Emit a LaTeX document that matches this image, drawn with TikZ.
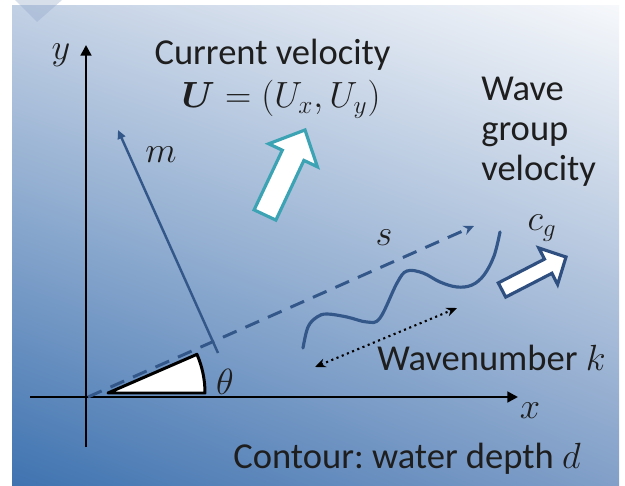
\documentclass[tikz,border=0pt]{standalone}
\usepackage{fontspec}
\usepackage{amsmath}
\setmainfont{Carlito}
\frenchspacing
\usetikzlibrary{arrows.meta,shadings}
\definecolor{bgUL}{HTML}{C2D0E4}
\definecolor{bgUR}{HTML}{F6F8FB}
\definecolor{bgLL}{HTML}{3F73B0}
\definecolor{bgLR}{HTML}{819FC8}
\definecolor{lineblue}{HTML}{34578A}
\definecolor{arrowblue}{HTML}{2E4F80}
\definecolor{tealc}{HTML}{3BA3B3}
\definecolor{tri}{HTML}{8FA5C8}
\definecolor{txt}{HTML}{1E1E1E}
\tikzset{
  axisline/.style={line width=1.7pt, black, -{Triangle[length=6pt,width=6pt]}},
  mline/.style={line width=1.4pt, lineblue, -{Triangle[length=5pt,width=4.5pt]}},
  sline/.style={line width=1.7pt, lineblue, dash pattern=on 8.5pt off 5.5pt, -{Stealth[length=6pt,width=5.5pt]}},
  waveline/.style={line width=1.8pt, lineblue, line cap=round},
  kline/.style={line width=1.2pt, black, dotted, {Stealth[length=6pt,width=5pt]}-{Stealth[length=6pt,width=5pt]}},
  bigarrow/.style={line width=1.8pt, fill=white, line join=miter},
  lbl/.style={text=txt, inner sep=0pt},
}
\begin{document}
\begin{tikzpicture}[x=0.02cm,y=0.02cm,font=\fontsize{20.8}{25}\selectfont]
\useasboundingbox (0,0) rectangle (625,-486);
% background panel
\fill[white] (0,0) rectangle (625,-486);
\shade[upper left=bgUL, upper right=bgUR, lower left=bgLL, lower right=bgLR] (12,-6) rectangle (619,-486);
\fill[tri, opacity=0.35] (15,0) -- (62,0) -- (37,-22) -- cycle;

% named points
\coordinate (O) at (86,-397);
\coordinate (xL) at (30,-397);
\coordinate (xR) at (518,-397);
\coordinate (yB) at (86,-447);
\coordinate (yT) at (86,-45);
\coordinate (mA) at (218,-353);
\coordinate (mB) at (118,-130);
\coordinate (sA) at (88,-397);
\coordinate (sB) at (474,-226);
\coordinate (kA) at (315,-367);
\coordinate (kB) at (457,-308);
\coordinate (W) at (108,-393);

% wedge
\draw[line width=1.7pt, fill=white, line join=round] (W) -- ++(97,0) arc[start angle=0, end angle=23.5, radius=1.94cm] -- cycle;

% axes
\draw[axisline] (xL) -- (xR);
\draw[axisline] (yB) -- (yT);

% m and s
\draw[mline] (mA) -- (mB);
\draw[sline] (sA) -- (sB);

% wave
\draw[waveline] plot[smooth, tension=0.6] coordinates {(303,-348) (308,-327) (317,-317) (327,-314) (347,-317) (367,-322) (380,-318) (397,-283) (407,-271) (423,-273) (440,-282) (457,-287) (472,-285) (484,-275) (494,-256) (500,-232)};

% wavenumber arrow
\draw[kline] (kA) -- (kB);

% current velocity arrow
\draw[bigarrow, draw=tealc] (254.1,-209.9) -- (282.3,-150.2) -- (268.7,-143.8) -- (305,-130) -- (317.4,-166.8) -- (303.9,-160.4) -- (275.9,-220.1) -- cycle;

% group velocity arrow
\draw[bigarrow, draw=arrowblue] (498.3,-282.9) -- (544.5,-259.1) -- (538.8,-248.0) -- (566,-257) -- (557.6,-284.4) -- (551.9,-273.3) -- (505.7,-297.1) -- cycle;

% labels
\node[lbl, anchor=base] (cv) at (272.5,-65) {Current velocity};
\node[lbl, anchor=base] (U) at (281,-108) {$\boldsymbol{U}=(U_x,U_y)$};
\node[lbl, anchor=base west] (w1) at (481,-101) {Wave};
\node[lbl, anchor=base west] (w2) at (481,-141) {group};
\node[lbl, anchor=base west] (w3) at (481,-181) {velocity};
\node[lbl, anchor=base west] (wn) at (377,-370) {Wavenumber $k$};
\node[lbl, anchor=base west] (ct) at (233,-468) {Contour: water depth $d$};
\node[lbl] (ly) at (61,-55) {$y$};
\node[lbl] (lx) at (530,-411) {$x$};
\node[lbl] (lm) at (161,-155) {$m$};
\node[lbl] (lt) at (225,-382) {$\theta$};
\node[lbl] (ls) at (384,-238) {$s$};
\node[lbl] (lc) at (542,-228) {$c_g$};
\end{tikzpicture}
\end{document}
